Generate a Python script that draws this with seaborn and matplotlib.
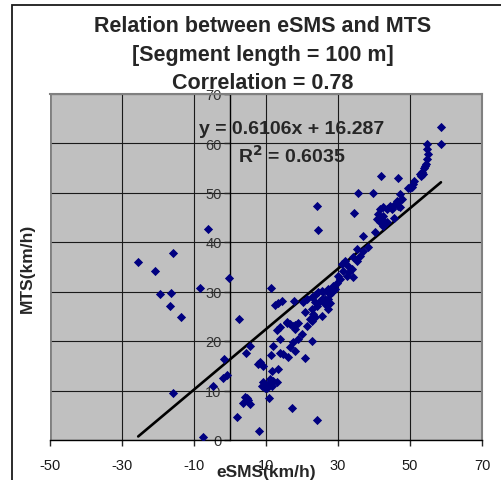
import matplotlib
matplotlib.use("Agg")
import matplotlib.pyplot as plt
import seaborn as sns
import numpy as np
import pandas as pd
from matplotlib.patches import Rectangle

# ---------------- data ----------------
esms = [
    -25.5, -20.8, -15.9, -19.4, -16.4, -16.7, -13.6, -8.3, -0.3, -6.0, -15.7, -7.6, -4.8, -1.8, -1.9, -0.8,
    2.4, 3.5, 4.2, 5.1, 5.6, 4.8, 2.0, 8.1, 4.4, 5.6, 8.3, 9.3, 7.7, 8.8, 9.7, 9.3,
    10.6, 11.1, 12.0, 13.0, 10.2, 11.6, 10.9, 11.6, 13.4, 11.3, 12.0, 13.9, 13.9, 13.0, 11.4, 12.5,
    13.4, 14.4, 14.8, 16.2, 16.7, 17.6, 18.1, 19.0, 15.7, 16.7, 17.6, 19.0, 18.1, 17.9, 17.2, 20.8,
    22.7, 20.8, 22.7, 23.6, 24.1, 24.5, 24.1, 20.4, 21.3, 22.7, 23.6, 24.5, 25.5, 27.3, 27.8, 26.4,
    25.0, 23.6, 24.1, 22.7, 23.1, 22.2, 15.7, 13.9, 18.1, 25.9, 26.9, 26.4, 27.3, 27.8, 27.3, 28.2,
    28.7, 29.2, 29.6, 25.5, 20.0, 21.5, 25.6,
    30.6, 31.5, 32.4, 31.0, 32.9, 31.9, 33.8, 34.3, 34.3, 35.2, 36.1, 35.2, 37.0, 38.4, 37.0, 40.3,
    34.4, 35.6, 39.8, 30.0, 33.0,
    42.6, 47.2, 47.7, 46.3, 45.8, 44.4, 44.9, 43.5, 42.6, 41.7, 41.2, 42.6, 42.1, 40.7, 41.7, 47.2,
    46.8, 46.8, 41.9, 46.8, 43.6, 45.5,
    50.0, 50.5, 50.9, 49.5, 51.2, 52.8, 53.1, 53.4, 54.0, 54.4, 54.8, 55.1, 54.8, 54.6, 58.6, 58.6,
    53.6, 54.2,
]
mts = [
    36.0, 34.1, 37.8, 29.5, 29.7, 27.1, 24.9, 30.8, 32.7, 42.6, 9.4, 0.7, 11.0, 16.4, 12.6, 13.1,
    24.4, 7.4, 8.6, 8.0, 7.2, 8.4, 4.6, 1.9, 17.5, 19.0, 15.7, 15.0, 15.4, 11.0, 10.6, 11.7,
    11.3, 12.3, 12.0, 11.7, 10.5, 11.0, 8.5, 14.0, 14.3, 17.2, 18.9, 17.5, 20.4, 22.2, 30.8, 27.3,
    27.6, 28.0, 17.4, 16.7, 18.7, 19.7, 18.0, 20.4, 23.6, 23.4, 23.1, 23.6, 22.4, 28.1, 6.5, 16.6,
    19.9, 25.8, 24.1, 24.8, 4.1, 42.5, 47.2, 27.8, 28.5, 28.8, 29.2, 29.8, 30.2, 30.5, 29.5, 28.5,
    28.1, 27.8, 27.1, 26.5, 25.5, 24.4, 23.8, 22.8, 23.2, 29.8, 30.2, 27.5, 28.5, 27.6, 26.5, 29.8,
    31.2, 30.5, 31.7, 28.5, 21.5, 23.0, 25.0,
    32.5, 34.2, 33.2, 35.6, 35.2, 36.2, 34.5, 32.9, 36.9, 36.2, 37.2, 38.6, 38.2, 38.9, 41.3, 42.0,
    45.8, 50.0, 50.0, 33.2, 34.0,
    43.3, 49.7, 48.7, 48.3, 47.7, 47.3, 46.7, 46.7, 47.0, 46.7, 45.7, 45.3, 44.6, 44.6, 44.0, 47.0,
    48.0, 47.3, 53.3, 53.0, 44.0, 44.8,
    51.0, 51.1, 51.7, 51.0, 52.3, 53.7, 53.3, 54.2, 54.9, 55.8, 56.8, 57.8, 58.8, 59.8, 63.3, 59.7,
    53.8, 55.3,
]
slope = 0.6106
intercept = 16.287
r_squared = 0.6035
correlation = 0.78

title_lines = ["Relation between eSMS and MTS", "[Segment length = 100 m]",
               f"Correlation = {correlation:.2f}"]
x_ticks = [-50, -30, -10, 10, 30, 50, 70]
y_ticks = [0, 10, 20, 30, 40, 50, 60, 70]
x_label = "eSMS(km/h)"
y_label = "MTS(km/h)"

df = pd.DataFrame({"eSMS": esms, "MTS": mts})
x_fit = np.array([df["eSMS"].min(), df["eSMS"].max()])
fit_df = pd.DataFrame({"eSMS": x_fit, "MTS": slope * x_fit + intercept})

# ---------------- figure ----------------
sns.set_style("white")
plt.rcParams["font.family"] = ["Liberation Sans", "DejaVu Sans"]
plt.rcParams["axes.unicode_minus"] = False

W, H = 502, 481
fig = plt.figure(figsize=(W / 100, H / 100), dpi=100)
fig.patch.set_facecolor("white")

# outer chart frame (left and top edges visible)
fig.patches.append(Rectangle((12 / W, -0.1), 1.2, 1 - 6 / H + 0.1, transform=fig.transFigure,
                             fill=False, edgecolor="#1a1a1a", linewidth=1.3))

ax = fig.add_axes([50 / W, 40 / H, 432 / W, 346.5 / H])
ax.set_facecolor("#c0c0c0")

sns.lineplot(data=fit_df, x="eSMS", y="MTS", color="black", linewidth=1.9, ax=ax, zorder=4)
sns.scatterplot(data=df, x="eSMS", y="MTS", marker="D", color="#000080", s=22,
                linewidth=0, ax=ax, zorder=5)

ax.set_xlim(-50, 70)
ax.set_ylim(0, 70)
ax.set_xticks(x_ticks)
ax.set_yticks(y_ticks)
ax.grid(True, color="#1a1a1a", linewidth=0.8)
ax.set_axisbelow(True)
ax.axvline(-50, color="#808080", linewidth=2.0, zorder=1)

ax.spines["left"].set_position(("data", 0))
ax.spines["left"].set_color("black")
ax.spines["left"].set_linewidth(1.0)
ax.spines["bottom"].set_color("black")
ax.spines["bottom"].set_linewidth(1.0)
for s in ("top", "right"):
    ax.spines[s].set_color("#808080")
    ax.spines[s].set_linewidth(1.5)

ax.tick_params(axis="x", direction="out", length=4, width=1, pad=9, labelsize=10.5,
               labelcolor="#1a1a1a", bottom=True)
ax.tick_params(axis="y", direction="out", length=4, width=1, pad=2, labelsize=10.5,
               labelcolor="#333333", left=True)
ax.set_xlabel("")
ax.set_ylabel("")

# titles
ys = [32, 60.5, 89]
for line, yb in zip(title_lines, ys):
    fig.text(263 / W, 1 - yb / H, line, ha="center", va="baseline",
             fontsize=15.5, fontweight="bold")

# equation annotation
fig.text(292 / W, 1 - 134 / H, f"y = {slope}x + {intercept}", ha="center", va="baseline",
         fontsize=14, fontweight="bold")
fig.text(292 / W, 1 - 163 / H, f"R$^\\mathbf{{2}}$ = {r_squared}", ha="center", va="baseline",
         fontsize=14, fontweight="bold")

fig.text(266 / W, 1 - 477 / H, x_label, ha="center", va="baseline", fontsize=12.5,
         fontweight="bold")
fig.text(27 / W, 1 - 268 / H, y_label, ha="center", va="center", rotation=90,
         fontsize=12.5, fontweight="bold")

fig.savefig("out.png", dpi=100)
